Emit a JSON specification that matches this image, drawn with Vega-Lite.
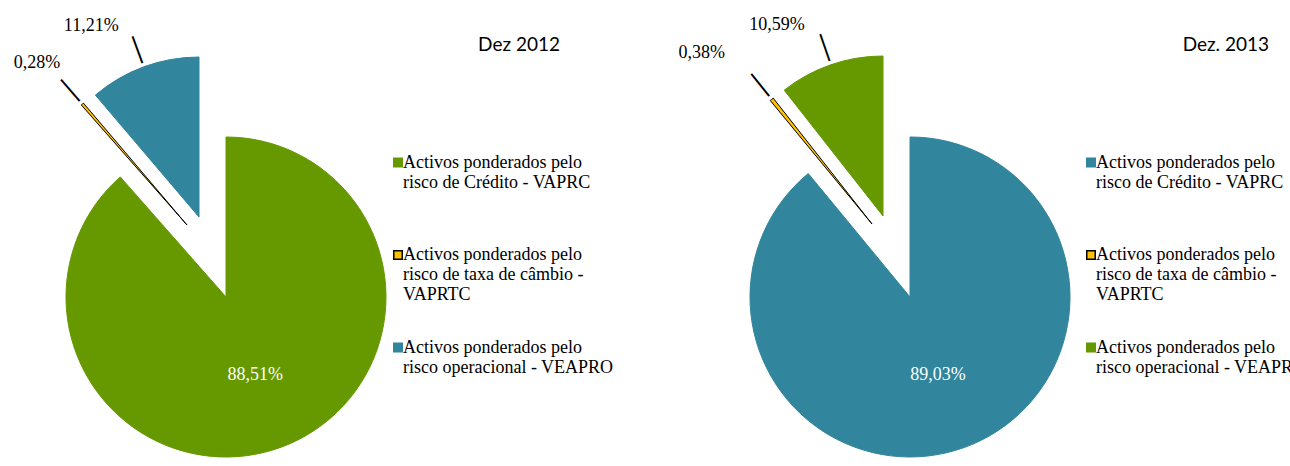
{
  "$schema": "https://vega.github.io/schema/vega-lite/v6.json",
  "padding": 0,
  "background": "white",
  "spacing": 232,
  "bounds": "flush",
  "config": {
    "view": {"stroke": null},
    "locale": {"number": {"decimal": ",", "thousands": ".", "grouping": [3], "currency": ["", " €"]}},
    "legend": {
      "orient": "none",
      "title": null,
      "symbolType": "square",
      "symbolSize": 72,
      "symbolStrokeWidth": 1.5,
      "labelFont": "Liberation Serif",
      "labelFontSize": 18,
      "labelColor": "black",
      "labelLineHeight": 20.5,
      "labelLimit": 0,
      "labelOffset": -4,
      "rowPadding": 34.5,
      "gridAlign": "all",
      "padding": 0
    }
  },
  "resolve": {
    "scale": {"fill": "independent", "stroke": "independent", "theta": "independent"},
    "legend": {"fill": "independent", "stroke": "independent"}
  },
  "hconcat": [
    {
      "width": 452,
      "height": 594,
      "title": {"text": "Dez 2012", "anchor": "end", "frame": "group", "orient": "top", "offset": -70, "dx": 108, "baseline": "alphabetic", "font": "Lato", "fontSize": 19, "fontWeight": "normal", "color": "black"},
      "data": {"values": [
        {"cat": "Activos ponderados pelo risco de Crédito - VAPRC", "v": 0.8851},
        {"cat": "Activos ponderados pelo risco de taxa de câmbio - VAPRTC", "v": 0.0028},
        {"cat": "Activos ponderados pelo risco operacional - VEAPRO", "v": 0.1121}
      ]},
      "encoding": {
        "theta": {"field": "v", "type": "quantitative", "stack": true},
        "order": {"field": "cat", "type": "ordinal", "sort": "ascending"}
      },
      "layer": [
        {
          "mark": {"type": "arc", "radius": 160, "strokeWidth": 1,
            "xOffset": {"expr": "indexof(datum.cat,'operacional')>0 ? -27 : indexof(datum.cat,'câmbio')>0 ? -39 : 0"},
            "yOffset": {"expr": "indexof(datum.cat,'operacional')>0 ? -80 : indexof(datum.cat,'câmbio')>0 ? -72 : 0"}},
          "encoding": {
            "fill": {"field": "cat", "type": "nominal",
              "scale": {"domain": ["Activos ponderados pelo risco de Crédito - VAPRC", "Activos ponderados pelo risco de taxa de câmbio - VAPRTC", "Activos ponderados pelo risco operacional - VEAPRO"], "range": ["#669900", "#FFC000", "#31859C"]},
              "legend": {"legendX": 389, "legendY": 153.5, "labelExpr": "indexof(datum.label,'câmbio')>0 ? ['Activos ponderados pelo','risco de taxa de câmbio -','VAPRTC'] : [slice(datum.label,0,23), slice(datum.label,24)]"}},
            "stroke": {"field": "cat", "type": "nominal",
              "scale": {"domain": ["Activos ponderados pelo risco de Crédito - VAPRC", "Activos ponderados pelo risco de taxa de câmbio - VAPRTC", "Activos ponderados pelo risco operacional - VEAPRO"], "range": ["#669900", "#000000", "#31859C"]},
              "legend": {"legendX": 389, "legendY": 153.5, "labelExpr": "indexof(datum.label,'câmbio')>0 ? ['Activos ponderados pelo','risco de taxa de câmbio -','VAPRTC'] : [slice(datum.label,0,23), slice(datum.label,24)]"}}
          }
        },
        {
          "mark": {"type": "text", "radius": 83, "font": "Liberation Serif", "fontSize": 18, "fill": "white"},
          "encoding": {"text": {"condition": {"test": "indexof(datum.cat,'Crédito')>0", "field": "v", "type": "quantitative", "format": ".2%"}, "value": ""}}
        },
        {
          "mark": {"type": "text", "radius": 208, "font": "Liberation Serif", "fontSize": 18, "fill": "black",
            "xOffset": {"expr": "indexof(datum.cat,'operacional')>0 ? -63 : indexof(datum.cat,'câmbio')>0 ? -53 : 0"},
            "yOffset": {"expr": "indexof(datum.cat,'operacional')>0 ? -76 : indexof(datum.cat,'câmbio')>0 ? -77 : 0"}},
          "encoding": {"text": {"condition": {"test": "indexof(datum.cat,'Crédito')<0", "field": "v", "type": "quantitative", "format": ".2%"}, "value": ""}}
        },
        {
          "mark": {"type": "text", "radius": 177, "font": "DejaVu Sans Mono", "fontSize": 24, "fill": "black", "baseline": "middle", "align": "center",
            "angle": {"expr": "(datum.v_start + datum.v_end) * 180"},
            "xOffset": {"expr": "indexof(datum.cat,'operacional')>0 ? -27 : indexof(datum.cat,'câmbio')>0 ? -39 : 0"},
            "yOffset": {"expr": "indexof(datum.cat,'operacional')>0 ? -80 : indexof(datum.cat,'câmbio')>0 ? -72 : 0"}},
          "encoding": {"text": {"condition": {"test": "indexof(datum.cat,'Crédito')<0", "value": "│"}, "value": ""}}
        }
      ]
    },
    {
      "width": 452,
      "height": 594,
      "title": {"text": "Dez. 2013", "anchor": "end", "frame": "group", "orient": "top", "offset": -70, "dx": 133, "baseline": "alphabetic", "font": "Lato", "fontSize": 19, "fontWeight": "normal", "color": "black"},
      "data": {"values": [
        {"cat": "Activos ponderados pelo risco de Crédito - VAPRC", "v": 0.8903},
        {"cat": "Activos ponderados pelo risco de taxa de câmbio - VAPRTC", "v": 0.0038},
        {"cat": "Activos ponderados pelo risco operacional - VEAPRO", "v": 0.1059}
      ]},
      "encoding": {
        "theta": {"field": "v", "type": "quantitative", "stack": true},
        "order": {"field": "cat", "type": "ordinal", "sort": "ascending"}
      },
      "layer": [
        {
          "mark": {"type": "arc", "radius": 160, "strokeWidth": 1,
            "xOffset": {"expr": "indexof(datum.cat,'operacional')>0 ? -27 : indexof(datum.cat,'câmbio')>0 ? -38 : 0"},
            "yOffset": {"expr": "indexof(datum.cat,'operacional')>0 ? -81 : indexof(datum.cat,'câmbio')>0 ? -73 : 0"}},
          "encoding": {
            "fill": {"field": "cat", "type": "nominal",
              "scale": {"domain": ["Activos ponderados pelo risco de Crédito - VAPRC", "Activos ponderados pelo risco de taxa de câmbio - VAPRTC", "Activos ponderados pelo risco operacional - VEAPRO"], "range": ["#31859C", "#FFC000", "#669900"]},
              "legend": {"legendX": 398, "legendY": 153.5, "labelExpr": "indexof(datum.label,'câmbio')>0 ? ['Activos ponderados pelo','risco de taxa de câmbio -','VAPRTC'] : [slice(datum.label,0,23), slice(datum.label,24)]"}},
            "stroke": {"field": "cat", "type": "nominal",
              "scale": {"domain": ["Activos ponderados pelo risco de Crédito - VAPRC", "Activos ponderados pelo risco de taxa de câmbio - VAPRTC", "Activos ponderados pelo risco operacional - VEAPRO"], "range": ["#31859C", "#000000", "#669900"]},
              "legend": {"legendX": 398, "legendY": 153.5, "labelExpr": "indexof(datum.label,'câmbio')>0 ? ['Activos ponderados pelo','risco de taxa de câmbio -','VAPRTC'] : [slice(datum.label,0,23), slice(datum.label,24)]"}}
          }
        },
        {
          "mark": {"type": "text", "radius": 83, "font": "Liberation Serif", "fontSize": 18, "fill": "white"},
          "encoding": {"text": {"condition": {"test": "indexof(datum.cat,'Crédito')>0", "field": "v", "type": "quantitative", "format": ".2%"}, "value": ""}}
        },
        {
          "mark": {"type": "text", "radius": 208, "font": "Liberation Serif", "fontSize": 18, "fill": "black",
            "xOffset": {"expr": "indexof(datum.cat,'operacional')>0 ? -65 : indexof(datum.cat,'câmbio')>0 ? -78 : 0"},
            "yOffset": {"expr": "indexof(datum.cat,'operacional')>0 ? -75 : indexof(datum.cat,'câmbio')>0 ? -82 : 0"}},
          "encoding": {"text": {"condition": {"test": "indexof(datum.cat,'Crédito')<0", "field": "v", "type": "quantitative", "format": ".2%"}, "value": ""}}
        },
        {
          "mark": {"type": "text", "radius": 177, "font": "DejaVu Sans Mono", "fontSize": 24, "fill": "black", "baseline": "middle", "align": "center",
            "angle": {"expr": "(datum.v_start + datum.v_end) * 180"},
            "xOffset": {"expr": "indexof(datum.cat,'operacional')>0 ? -27 : indexof(datum.cat,'câmbio')>0 ? -38 : 0"},
            "yOffset": {"expr": "indexof(datum.cat,'operacional')>0 ? -81 : indexof(datum.cat,'câmbio')>0 ? -73 : 0"}},
          "encoding": {"text": {"condition": {"test": "indexof(datum.cat,'Crédito')<0", "value": "│"}, "value": ""}}
        }
      ]
    }
  ]
}
